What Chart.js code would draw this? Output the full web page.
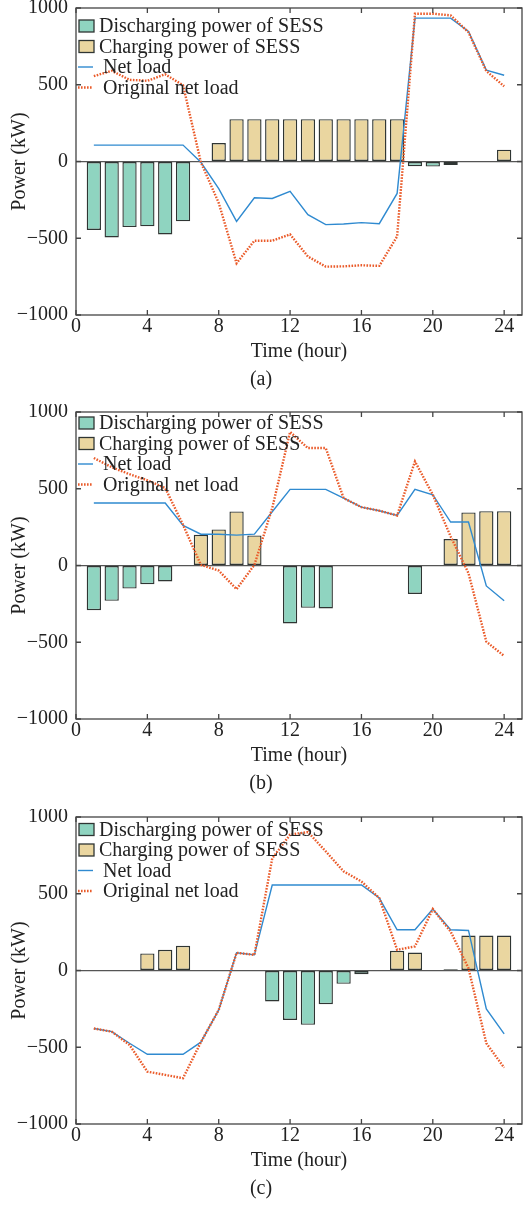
<!DOCTYPE html>
<html>
<head>
<meta charset="utf-8">
<script src="https://cdn.jsdelivr.net/npm/chart.js@4.4.1/dist/chart.umd.min.js"></script>
<style>
  html, body { margin: 0; padding: 0; background: #fff; }
  .panel { position: absolute; left: 0; width: 525px; height: 405px; }
</style>
</head>
<body>
<div class="panel" style="top:0"><canvas id="chartA"></canvas></div>
<div class="panel" style="top:404px"><canvas id="chartB"></canvas></div>
<div class="panel" style="top:809px"><canvas id="chartC"></canvas></div>
<script>
const hours = [1, 2, 3, 4, 5, 6, 7, 8, 9, 10, 11, 12, 13, 14, 15, 16, 17, 18, 19, 20, 21, 22, 23, 24];
const hourTicks = [0, 4, 8, 12, 16, 20, 24];
const powerTicks = [-1000, -500, 0, 500, 1000];

// panel (a)
const dischargeA = [-446, -495, -427, -422, -475, -390, 0, 0, 0, 0, 0, 0, 0, 0, 0, 0, 0, 0, -31, -33, -22, 0, 0, 0];
const chargeA = [0, 0, 0, 0, 0, 0, 0, 120, 276, 276, 276, 276, 276, 276, 276, 276, 276, 276, 0, 0, 0, 0, 0, 77];
const netLoadA = [107, 107, 107, 107, 107, 107, -5, -177, -390, -236, -241, -195, -346, -411, -407, -398, -405, -208, 934, 934, 934, 847, 595, 562];
const originalA = [556, 591, 532, 526, 568, 497, -5, -270, -663, -516, -516, -475, -619, -685, -683, -676, -680, -488, 963, 963, 952, 842, 589, 490];

// panel (b)
const dischargeB = [-291, -230, -150, -122, -104, 0, 0, 0, 0, 0, 0, -378, -276, -280, 0, 0, 0, 0, -185, 0, 0, 0, 0, 0];
const chargeB = [0, 0, 0, 0, 0, 0, 200, 235, 352, 196, 0, 0, 0, 0, 0, 0, 0, 0, 0, 0, 172, 346, 354, 354];
const netLoadB = [407, 407, 407, 407, 407, 261, 204, 204, 198, 204, 350, 496, 496, 496, 439, 380, 357, 326, 496, 461, 283, 283, -133, -230];
const originalB = [700, 640, 595, 555, 505, 265, 4, -33, -154, 4, 374, 870, 765, 765, 439, 380, 357, 326, 678, 461, 189, -50, -496, -589];

// panel (c)
const dischargeC = [0, 0, 0, 0, 0, 0, 0, 0, 0, 0, -202, -322, -354, -220, -87, -24, 0, 0, 0, 0, 0, 0, 0, 0];
const chargeC = [0, 0, 0, 111, 135, 161, 0, 0, 0, 0, 0, 0, 0, 0, 0, 0, 0, 128, 117, 0, 8, 228, 228, 228];
const netLoadC = [-378, -398, -474, -546, -546, -546, -467, -257, 115, 102, 557, 557, 557, 557, 557, 557, 472, 265, 265, 400, 265, 261, -250, -413];
const originalC = [-378, -398, -485, -659, -680, -702, -467, -257, 115, 102, 730, 885, 902, 776, 646, 580, 472, 135, 157, 400, 254, 15, -474, -633];

const FONT = '"Liberation Serif", "Times New Roman", serif';
Chart.defaults.font.family = FONT;
Chart.defaults.font.size = 20;
Chart.defaults.color = '#222';

// legend drawn inside the axes, MATLAB style
const insideLegend = {
  id: 'insideLegend',
  afterDatasetsDraw(chart, args, opts) {
    const { ctx, chartArea } = chart;
    const x0 = chartArea.left + 3;
    ctx.save();
    ctx.font = '20px ' + FONT;
    ctx.textBaseline = 'middle';
    chart.data.datasets.forEach((ds, i) => {
      const y = chartArea.top + opts.top + i * opts.rowHeight;
      let textX;
      if (ds.type === 'bar') {
        ctx.fillStyle = ds.backgroundColor;
        ctx.fillRect(x0, y - 6, 15, 12);
        ctx.strokeStyle = ds.borderColor;
        ctx.lineWidth = 1.3;
        ctx.setLineDash([]);
        ctx.strokeRect(x0, y - 6, 15, 12);
        textX = x0 + 20;
      } else {
        ctx.strokeStyle = ds.borderColor;
        ctx.lineWidth = ds.borderWidth;
        ctx.setLineDash(ds.borderDash || []);
        ctx.beginPath();
        ctx.moveTo(x0 - 1, y);
        ctx.lineTo(x0 + 14, y);
        ctx.stroke();
        textX = x0 + 24;
      }
      ctx.fillStyle = '#222';
      ctx.fillText(ds.label, textX, y + 1);
    });
    ctx.restore();
  }
};

// box round the axes plus inward ticks on all four sides
const axesBox = {
  id: 'axesBox',
  afterDraw(chart) {
    const { ctx, chartArea: { left, right, top, bottom }, scales: { x, y } } = chart;
    ctx.save();
    ctx.strokeStyle = '#444';
    ctx.lineWidth = 1.3;
    ctx.strokeRect(left, top, right - left, bottom - top);
    ctx.beginPath();
    x.ticks.forEach(t => {
      const px = x.getPixelForValue(t.value);
      ctx.moveTo(px, bottom); ctx.lineTo(px, bottom - 5);
      ctx.moveTo(px, top); ctx.lineTo(px, top + 5);
    });
    y.ticks.forEach(t => {
      const py = y.getPixelForValue(t.value);
      ctx.moveTo(left, py); ctx.lineTo(left + 5, py);
      ctx.moveTo(right, py); ctx.lineTo(right - 5, py);
    });
    ctx.stroke();
    ctx.restore();
  }
};

function makePanel(canvasId, caption, legendTop, discharge, charge, netLoad, original) {
  const pts = arr => hours.map((h, i) => ({ x: h, y: arr[i] }));
  const barStyle = { borderColor: '#2f3533', borderWidth: 1.4, borderSkipped: false, grouped: false, barPercentage: 0.8, categoryPercentage: 1 };
  return new Chart(document.getElementById(canvasId), {
    data: {
      datasets: [
        Object.assign({ type: 'bar', label: 'Discharging power of SESS', data: pts(discharge), backgroundColor: '#8fd4c0', order: 3 }, barStyle),
        Object.assign({ type: 'bar', label: 'Charging power of SESS', data: pts(charge), backgroundColor: '#ead6a0', order: 2 }, barStyle),
        { type: 'line', label: 'Net load', data: pts(netLoad), borderColor: '#2f8ad0', borderWidth: 1.4, pointRadius: 0, tension: 0, order: 1 },
        { type: 'line', label: 'Original net load', data: pts(original), borderColor: '#ea5b2a', borderWidth: 2.4, borderDash: [1.6, 1.4], pointRadius: 0, tension: 0, order: 0 }
      ]
    },
    options: {
      responsive: true,
      maintainAspectRatio: false,
      animation: false,
      layout: { padding: { top: 8, right: 3, left: 0, bottom: 0 } },
      scales: {
        x: {
          type: 'linear', min: 0, max: 25, offset: false,
          afterBuildTicks: s => { s.ticks = hourTicks.map(v => ({ value: v })); },
          afterFit: s => { s.height = 53; s.paddingLeft = 0; s.paddingRight = 0; },
          grid: { display: false, drawTicks: false },
          border: { display: false },
          ticks: { padding: 0, maxRotation: 0 },
          title: { display: true, text: 'Time (hour)', padding: { top: 0, bottom: 4 } }
        },
        y: {
          type: 'linear', min: -1000, max: 1000,
          afterBuildTicks: s => { s.ticks = powerTicks.map(v => ({ value: v })); },
          afterFit: s => { s.width = 76; s.paddingTop = 0; s.paddingBottom = 0; },
          grid: { drawTicks: false, color: c => (c.tick && c.tick.value === 0 ? '#555' : 'rgba(0,0,0,0)'), lineWidth: 1.2 },
          border: { display: false },
          ticks: { padding: 8, callback: v => String(v).replace('-', '\u2212') },
          title: { display: true, text: 'Power (kW)', padding: { top: 8, bottom: 0 } }
        }
      },
      plugins: {
        legend: { display: false },
        tooltip: { enabled: false },
        title: { display: true, position: 'bottom', text: caption, font: { size: 20, weight: 'normal' }, padding: { top: 0, bottom: 13 } },
        insideLegend: { top: legendTop, rowHeight: 20.5 }
      }
    },
    plugins: [insideLegend, axesBox]
  });
}

makePanel('chartA', '(a)', 18, dischargeA, chargeA, netLoadA, originalA);
makePanel('chartB', '(b)', 11, dischargeB, chargeB, netLoadB, originalB);
makePanel('chartC', '(c)', 12.5, dischargeC, chargeC, netLoadC, originalC);
</script>
</body>
</html>
